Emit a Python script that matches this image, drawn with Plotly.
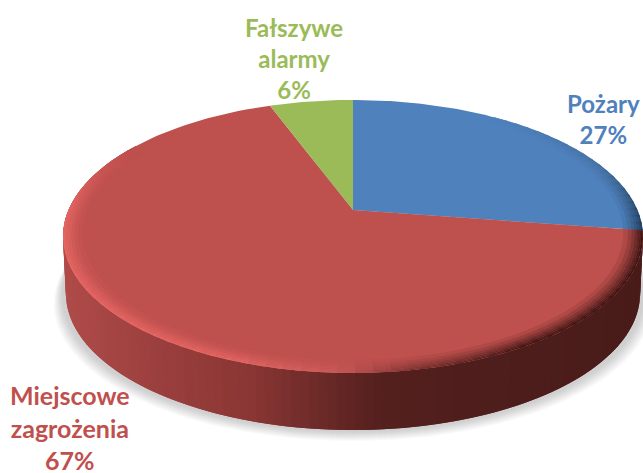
import numpy as np
import plotly.graph_objects as go

# --- data ---
categories = ["Pożary", "Miejscowe<br>zagrożenia", "Fałszywe<br>alarmy"]
values = [27.4, 67.0, 5.6]
colors = ["#4F81BD", "#BE504D", "#9BBB59"]
text_colors = ["#4F81BD", "#C0504D", "#9BBB59"]

# --- projection of the tilted disc onto the axes ---
CX, CY, KX, KY, PERSP = 353.0, 210.0, 284.5, 131.4, 0.194
DEPTH = 57.0


def project(theta_deg, r=1.0):
    t = np.radians(theta_deg)
    u, v = r * np.sin(t), r * np.cos(t)
    w = 1 + PERSP * v
    return CX + KX * u / w, CY - KY * v / w


def rgb(h):
    h = h.lstrip("#")
    return np.array([int(h[i:i + 2], 16) for i in (0, 2, 4)], float)


def mix(a, b, t):
    return a + (b - a) * t


def css(c):
    return "rgb(%d,%d,%d)" % tuple(np.clip(np.round(c), 0, 255))


def ramp(x, stops):
    xs = [s[0] for s in stops]
    cs = np.array([rgb(s[1]) for s in stops])
    return np.array([np.interp(x, xs, cs[:, i]) for i in range(3)])


fig = go.Figure()


def poly(xs, ys, fill):
    fig.add_trace(go.Scatter(
        x=list(xs), y=list(ys), mode="lines", fill="toself", fillcolor=fill,
        line=dict(width=0), hoverinfo="skip", showlegend=False))


shares = np.array(values, float) / sum(values)
bounds = np.concatenate([[0], np.cumsum(shares)]) * 360

# soft shadow below the disc
full = np.linspace(0, 360, 181)
for i in range(10, 0, -1):
    px, py = project(full)
    sx = CX + (px - CX) * (1 + i * 0.0032)
    sy = py + DEPTH + 1 + i * 1.0
    poly(sx, sy, "rgba(90,90,90,0.032)")

# rim (side wall) of the red slice, shaded along its width; each strip runs on
# under the next one, so that no seam shows between them
side_stops = [(60, "#B04C4A"), (150, "#9C403E"), (250, "#8A3634"), (320, "#6C2A28"),
              (380, "#54201E"), (480, "#4E1E1C"), (650, "#481B19")]
a0, a1 = bounds[1], 300.0
edges = np.arange(a0, a1 + 1.5, 1.5)
for a, b in zip(edges[:-1], edges[1:]):
    th = np.linspace(a, b + 1.5, 3)
    px, py = project(th)
    qx = CX + (px - CX) * 0.99
    qy = py + DEPTH
    mid = project((a + b) / 2)[0]
    poly(np.r_[px, qx[::-1]], np.r_[py, qy[::-1]], css(ramp(mid, side_stops)))

# top face
for i in range(len(values)):
    th = np.linspace(bounds[i], bounds[i + 1], 121)
    px, py = project(th)
    poly(np.r_[CX, px, CX], np.r_[CY, py, CY], colors[i])

# bevel at the rim of the top face: rings from the inside out, each one a full
# band that the next ring paints over
rim_red = [(bounds[1], "#3E1614"), (150, "#3E1614"), (170, "#7A3230"), (182, "#C85A58"),
           (200, "#E66664"), (270, "#E66664"), (300, "#BE504D")]
rim_blue = [(35, "#4F81BD"), (70, "#44709F"), (bounds[1], "#1F3A58")]
radii = np.array([0.935, 0.95, 0.962, 0.972, 0.981, 0.988, 0.994, 1.0])
for idx, stops, start, stop in ((0, rim_blue, 35.0, bounds[1]), (1, rim_red, bounds[1], 300.0)):
    base = rgb(colors[idx])
    edges = np.arange(start, stop + 3, 3.0)
    edges[-1] = stop
    for a, b in zip(edges[:-1], edges[1:]):
        edge = ramp((a + b) / 2, stops)
        b2 = min(b + 1.0, stop)
        for r0, r1 in zip(radii[:-1], radii[1:]):
            t = ((r1 - radii[0]) / (1 - radii[0])) ** 1.4
            th = np.linspace(a, b2, 3)
            ox, oy = project(th, r1)
            ix, iy = project(th, r0)
            poly(np.r_[ox, ix[::-1]], np.r_[oy, iy[::-1]], css(mix(base, edge, t)))

# labels
label_pos = [(603, 119, 0, 24), (69.5, 427, 1, 25), (294, 58, 2, 24)]
annotations = []
for x, y, i, size in label_pos:
    annotations.append(dict(
        x=x, y=y, xref="x", yref="y", showarrow=False, xanchor="center", yanchor="middle",
        text="<b>%s<br>%.0f%%</b>" % (categories[i], values[i]), align="center",
        font=dict(family="Lato, Carlito, sans-serif", size=size, color=text_colors[i])))

fig.update_layout(
    width=643, height=473, margin=dict(l=0, r=0, t=0, b=0),
    paper_bgcolor="white", plot_bgcolor="white", showlegend=False,
    xaxis=dict(range=[0, 643], visible=False, fixedrange=True),
    yaxis=dict(range=[473, 0], visible=False, fixedrange=True),
    annotations=annotations)

fig.write_html("out.html", config={"displayModeBar": False},
               post_script="document.body.style.margin='0';")
